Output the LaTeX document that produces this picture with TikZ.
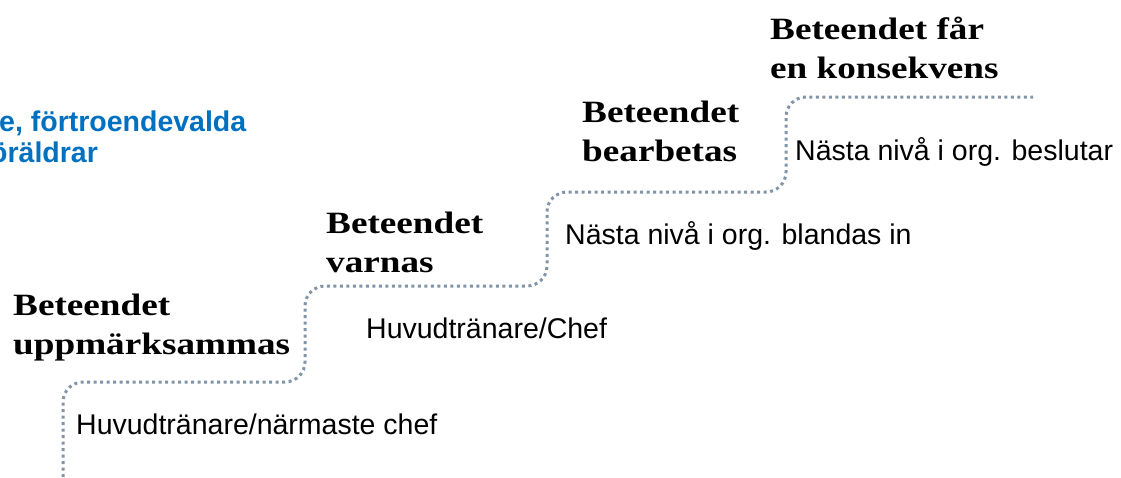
\documentclass[tikz,border=0pt]{standalone}
\usepackage{fontspec}
\setmainfont{Liberation Sans}
\newfontfamily\stepfont[FakeStretch=1.2]{Liberation Serif}

\definecolor{roleblue}{RGB}{0,112,192}
\definecolor{stairgray}{RGB}{130,148,168}

\tikzset{
  steptitle/.style={font=\stepfont\bfseries\fontsize{31}{39}\selectfont, align=left, anchor=base west, inner sep=0pt},
  steplabel/.style={font=\fontsize{28.5}{34}\selectfont, anchor=base west, inner sep=0pt},
  rolelabel/.style={font=\bfseries\fontsize{28.5}{31}\selectfont, text=roleblue, anchor=base west, inner sep=0pt},
  stairline/.style={line width=3pt, dash pattern=on 3pt off 3.5pt, draw=stairgray, rounded corners=20pt}
}

\begin{document}
\begin{tikzpicture}[x=1pt,y=-1pt]
  % Canvas (pixel grid, y downwards)
  \useasboundingbox (0,0) rectangle (1121,477);

  % Dotted staircase
  \draw[stairline] (63,477) -- (63,382) -- (305,382) -- (305,286) -- (547,286)
    -- (547,192) -- (786,192) -- (786,97) -- (1033,97);

  % Roles (cut at the left edge)
  \node[rolelabel] (rolesA) at (-1,131) {e, förtroendevalda};
  \node[rolelabel] (rolesB) at (-10,162) {öräldrar};

  % Step titles (placed at the baseline of their last line)
  \node[steptitle] (noticed) at (13,354) {Beteendet\\uppmärksammas};
  \node[steptitle] (warned) at (326,272) {Beteendet\\varnas};
  \node[steptitle] (handled) at (582,161) {Beteendet\\bearbetas};
  \node[steptitle] (consequence) at (770,78) {Beteendet får\\en konsekvens};

  % Who acts at each step
  \node[steplabel] (coachA) at (76,434) {Huvudtränare/närmaste chef};
  \node[steplabel] (coachB) at (366,338) {Huvudtränare/Chef};
  \node[steplabel] (orgA) at (565,244) {Nästa nivå i org. blandas in};
  \node[steplabel] (orgB) at (795,160) {Nästa nivå i org. beslutar};
\end{tikzpicture}
\end{document}
